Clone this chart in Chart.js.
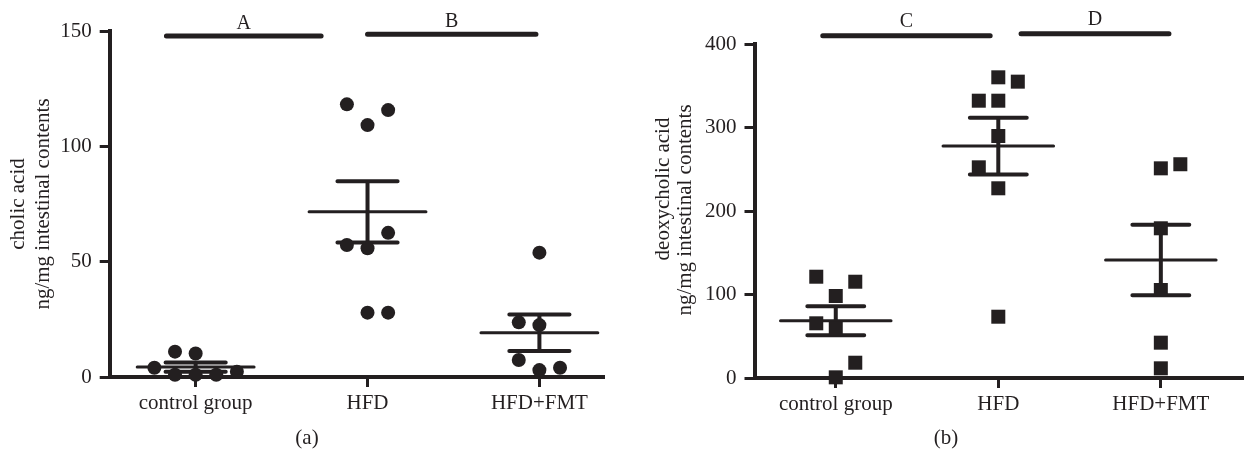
<!DOCTYPE html>
<html><head><meta charset="utf-8">
<script src="https://cdn.jsdelivr.net/npm/chart.js@4.4.1/dist/chart.umd.min.js"></script>
<style>
html,body{margin:0;padding:0;background:#fff;width:1252px;height:457px;overflow:hidden;}
#wa{position:absolute;left:0;top:0;width:620px;height:457px;}
#wb{position:absolute;left:620px;top:0;width:632px;height:457px;}
.cap{position:absolute;top:425px;width:40px;text-align:center;line-height:24px;font:21px "Liberation Serif",serif;color:#231f20;}
</style></head><body>
<div id="wa"><canvas id="ca"></canvas></div>
<div id="wb"><canvas id="cb"></canvas></div>
<div class="cap" style="left:287px">(a)</div>
<div class="cap" style="left:926px">(b)</div>
<script>
const groups = ['control group', 'HFD', 'HFD+FMT'];

// (a) cholic acid, ng/mg intestinal contents
const cholicControl  = [4.0, 11.0, 10.2, 1.0, 1.0, 1.0, 2.3];
const cholicControlX = [-0.24, -0.12, 0, -0.12, 0, 0.12, 0.24];
const cholicHFD      = [118.2, 109.2, 115.7, 57.2, 55.8, 62.5, 27.9, 27.9];
const cholicHFDX     = [-0.12, 0, 0.12, -0.12, 0, 0.12, 0, 0.12];
const cholicFMT      = [53.9, 23.7, 22.5, 7.4, 3.0, 4.0];
const cholicFMTX     = [0, -0.12, 0, -0.12, 0, 0.12];
const cholicMean     = [4.3, 71.6, 19.2];
const cholicSEM      = [2.0, 13.3, 7.9];
const cholicTicks    = [0, 50, 100, 150];
const cholicSigLabel = ['A', 'B'];
const cholicSigFrom  = [0.83, 2.00];
const cholicSigTo    = [1.73, 2.98];
const cholicSigLevel = [147.8, 148.6];

// (b) deoxycholic acid, ng/mg intestinal contents
const deoxyControl  = [121.3, 115.3, 98.2, 65.5, 59.5, 18.3, 0.8];
const deoxyControlX = [-0.12, 0.12, 0, -0.12, 0, 0.12, 0];
const deoxyHFD      = [360.1, 354.9, 332.1, 332.1, 289.8, 252.3, 227.2, 73.4];
const deoxyHFDX     = [0, 0.12, -0.12, 0, 0, -0.12, 0, 0];
const deoxyFMT      = [251.1, 256.0, 179.3, 105.4, 42.3, 11.6];
const deoxyFMTX     = [0, 0.12, 0, 0, 0, 0];
const deoxyMean     = [68.6, 277.8, 141.3];
const deoxySEM      = [17.4, 34.0, 42.3];
const deoxyTicks    = [0, 100, 200, 300, 400];
const deoxySigLabel = ['C', 'D'];
const deoxySigFrom  = [0.92, 2.14];
const deoxySigTo    = [1.95, 3.05];
const deoxySigLevel = [410.0, 412.3];

const INK = '#231f20';
const FONT = '"Liberation Serif", "Times New Roman", serif';

function pts(vals, offs, g) { return vals.map((v, i) => ({x: g + offs[i], y: v})); }

function meanLines(means) {
  const d = [];
  means.forEach((m, i) => { const c = i + 1; d.push({x: c - 0.34, y: m}, {x: c + 0.34, y: m}, {x: c + 0.35, y: null}); });
  return d;
}
function errLines(means, sems) {
  const d = [];
  means.forEach((m, i) => {
    const c = i + 1, s = sems[i];
    d.push({x: c - 0.175, y: m + s}, {x: c + 0.175, y: m + s}, {x: c + 0.18, y: null});
    d.push({x: c - 0.175, y: m - s}, {x: c + 0.175, y: m - s}, {x: c + 0.18, y: null});
    d.push({x: c, y: m - s}, {x: c, y: m + s}, {x: c + 0.01, y: null});
  });
  return d;
}
function sigLines(from, to, level) {
  const d = [];
  from.forEach((f, i) => { d.push({x: f, y: level[i]}, {x: to[i], y: level[i]}, {x: to[i] + 0.01, y: null}); });
  return d;
}

const overlay = {
  id: 'overlay',
  afterDraw(chart, args, o) {
    const {ctx} = chart, x = chart.scales.x, y = chart.scales.y;
    ctx.save();
    ctx.fillStyle = INK;
    ctx.font = '20px ' + FONT;
    ctx.textAlign = 'center';
    ctx.textBaseline = 'alphabetic';
    o.labels.forEach((lab, i) => {
      const px = x.getPixelForValue((o.from[i] + o.to[i]) / 2);
      const py = y.getPixelForValue(o.level[i]) - o.gap;
      ctx.fillText(lab, px, py);
    });
    ctx.font = '21px ' + FONT;
    ctx.textBaseline = 'middle';
    o.titles.forEach(t => {
      ctx.save(); ctx.translate(t.x, t.y); ctx.rotate(-Math.PI / 2);
      ctx.fillText(t.text, 0, 0); ctx.restore();
    });
    ctx.restore();
  }
};

function makeChart(id, p) {
  const lineDs = (data, w) => ({type: 'scatter', showLine: true, data, borderColor: INK, borderWidth: w,
    pointRadius: 0, borderCapStyle: 'round', spanGaps: false, clip: false, tension: 0});
  const ptDs = data => ({type: 'scatter', data, pointStyle: p.style, pointRadius: p.radius,
    backgroundColor: INK, borderWidth: 0, clip: false});
  return new Chart(document.getElementById(id), {
    type: 'scatter',
    data: {datasets: [
      ptDs(pts(p.series[0], p.offs[0], 1)),
      ptDs(pts(p.series[1], p.offs[1], 2)),
      ptDs(pts(p.series[2], p.offs[2], 3)),
      lineDs(meanLines(p.mean), 3),
      lineDs(errLines(p.mean, p.sem), 4),
      lineDs(sigLines(p.sigFrom, p.sigTo, p.sigLevel), 5)
    ]},
    options: {
      responsive: true, maintainAspectRatio: false, animation: false, events: [],
      layout: {padding: {top: p.top, right: p.right, bottom: 0, left: 0}},
      plugins: {legend: {display: false}, tooltip: {enabled: false},
        overlay: {labels: p.sigLabel, from: p.sigFrom, to: p.sigTo, level: p.sigLevel, gap: p.gap, titles: p.titles}},
      scales: {
        x: {type: 'linear', min: 0.5, max: p.xmax,
          afterBuildTicks: s => { s.ticks = groups.map((g, i) => ({value: i + 1})); },
          afterFit: s => { s.height = p.xh; },
          border: {display: true, color: INK, width: 4},
          grid: {display: true, drawOnChartArea: false, drawTicks: true, tickLength: 10, lineWidth: 3, color: INK},
          ticks: {autoSkip: false, maxRotation: 0, padding: 4, color: INK, font: {family: FONT, size: 21},
            callback: v => groups[v - 1]}
        },
        y: {type: 'linear', min: 0, max: p.ymax,
          afterBuildTicks: s => { s.ticks = p.ticks.map(v => ({value: v})); },
          afterFit: s => { s.width = p.yw; },
          border: {display: true, color: INK, width: 4},
          grid: {display: true, drawOnChartArea: false, drawTicks: true, tickLength: 10, lineWidth: 3, color: INK},
          ticks: {padding: 8, color: INK, font: {family: FONT, size: 21}}
        }
      }
    },
    plugins: [overlay]
  });
}

makeChart('ca', {
  series: [cholicControl, cholicHFD, cholicFMT], offs: [cholicControlX, cholicHFDX, cholicFMTX],
  mean: cholicMean, sem: cholicSEM, ticks: cholicTicks, ymax: 150,
  sigLabel: cholicSigLabel, sigFrom: cholicSigFrom, sigTo: cholicSigTo, sigLevel: cholicSigLevel,
  style: 'circle', radius: 7, top: 31, right: 17, xh: 80, yw: 109.7, xmax: 3.37, gap: 7,
  titles: [{text: 'cholic acid', x: 18, y: 204}, {text: 'ng/mg intestinal contents', x: 43, y: 204}]
});
makeChart('cb', {
  series: [deoxyControl, deoxyHFD, deoxyFMT], offs: [deoxyControlX, deoxyHFDX, deoxyFMTX],
  mean: deoxyMean, sem: deoxySEM, ticks: deoxyTicks, ymax: 400,
  sigLabel: deoxySigLabel, sigFrom: deoxySigFrom, sigTo: deoxySigTo, sigLevel: deoxySigLevel,
  style: 'rect', radius: 9.9, top: 44, right: 0, xh: 79, yw: 134.5, xmax: 3.5, gap: 9,
  titles: [{text: 'deoxycholic acid', x: 43, y: 189}, {text: 'ng/mg intestinal contents', x: 65, y: 210}]
});
</script>
</body></html>
